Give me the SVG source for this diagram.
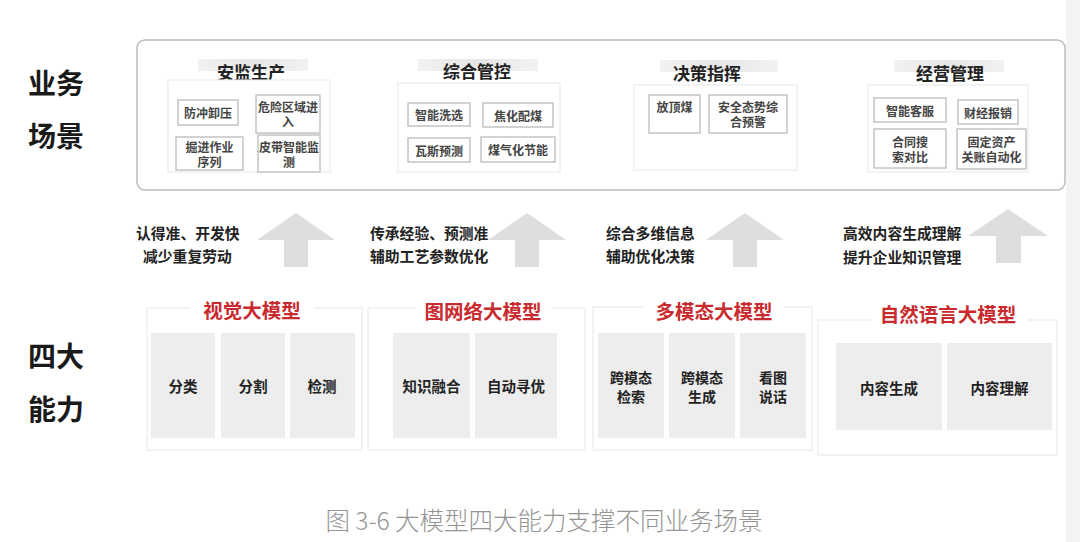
<svg xmlns="http://www.w3.org/2000/svg" width="1080" height="542" viewBox="0 0 1080 542">
<defs>
<linearGradient id="band" x1="0" y1="0" x2="1" y2="0">
<stop offset="0" stop-color="#f2f2f2"/><stop offset="0.5" stop-color="#e6e6e6"/><stop offset="1" stop-color="#f2f2f2"/>
</linearGradient>
<style>
text{font-family:"Noto Sans CJK SC","Noto Sans",sans-serif;text-anchor:middle;dominant-baseline:central}
.side{font-size:28px;font-weight:700;fill:#1a1a1a;text-anchor:start}
.sec{font-size:17px;font-weight:700;fill:#222}
.band{fill:url(#band)}
.cont{fill:#fff;stroke:#ececec;stroke-width:1.2}
.sb{fill:#fff;stroke:#c4c4c4;stroke-width:1.5}
.st{font-size:12px;font-weight:700;fill:#444}
.mid{font-size:14.8px;font-weight:700;fill:#222;text-anchor:start}
.arr{fill:#dedede}
.red{font-size:19.5px;font-weight:700;fill:#c92a2e}
.gb{fill:#ededed}
.gt{font-size:14.5px;font-weight:700;fill:#222}
.gt2{font-size:14px;font-weight:700;fill:#222}
.cap{font-size:24.5px;font-weight:300;fill:#949494}
</style>
</defs>
<rect width="1080" height="542" fill="#fff"/>
<rect x="1066" y="0" width="14" height="542" fill="#f4f4f4"/>

<g id="side-labels">
<text class="side" x="28" y="82">业务</text>
<text class="side" x="28" y="135">场景</text>
<text class="side" x="28" y="355">四大</text>
<text class="side" x="28" y="408">能力</text>
</g>

<g id="scenes-frame">
<rect x="137" y="40" width="928" height="150" rx="8" fill="#fff" stroke="#bcbcbc" stroke-width="1.5"/>
</g>

<g id="scene-anjian">
<rect class="band" x="198" y="59" width="110" height="12"/>
<text class="sec" x="251" y="71">安监生产</text>
<rect class="cont" x="168" y="80" width="162" height="92"/>
<rect class="sb" x="178" y="100" width="60" height="25"/>
<text class="st" x="208" y="112.5">防冲卸压</text>
<rect class="sb" x="256" y="95" width="64" height="38"/>
<text class="st" x="288" y="106">危险区域进</text>
<text class="st" x="288" y="121">入</text>
<rect class="sb" x="176" y="137" width="67" height="33"/>
<text class="st" x="209.5" y="146">掘进作业</text>
<text class="st" x="209.5" y="161">序列</text>
<rect class="sb" x="258" y="135" width="62" height="37"/>
<text class="st" x="289" y="146">皮带智能监</text>
<text class="st" x="289" y="161">测</text>
</g>

<g id="scene-zonghe">
<rect class="band" x="418" y="59" width="120" height="12"/>
<text class="sec" x="477" y="70">综合管控</text>
<rect class="cont" x="398" y="83" width="162" height="89"/>
<rect class="sb" x="408" y="103" width="62" height="23"/>
<text class="st" x="439" y="114.5">智能洗选</text>
<rect class="sb" x="483" y="103" width="70" height="24"/>
<text class="st" x="518" y="115">焦化配煤</text>
<rect class="sb" x="408" y="138" width="62" height="24"/>
<text class="st" x="439" y="150">瓦斯预测</text>
<rect class="sb" x="481" y="137" width="74" height="25"/>
<text class="st" x="518" y="149.5">煤气化节能</text>
</g>

<g id="scene-juece">
<rect class="band" x="660" y="60" width="118" height="12"/>
<text class="sec" x="707" y="72">决策指挥</text>
<rect class="cont" x="634" y="85" width="163" height="85"/>
<rect class="sb" x="649" y="95" width="51" height="38"/>
<text class="st" x="674.5" y="106">放顶煤</text>
<rect class="sb" x="709" y="95" width="78" height="38"/>
<text class="st" x="748" y="106">安全态势综</text>
<text class="st" x="748" y="121">合预警</text>
</g>

<g id="scene-jingying">
<rect class="band" x="894" y="60" width="110" height="12"/>
<text class="sec" x="950" y="72">经营管理</text>
<rect class="cont" x="868" y="85" width="160" height="87"/>
<rect class="sb" x="874" y="98" width="72" height="24"/>
<text class="st" x="910" y="110">智能客服</text>
<rect class="sb" x="958" y="100" width="60" height="24"/>
<text class="st" x="988" y="112">财经报销</text>
<rect class="sb" x="874" y="129" width="72" height="39"/>
<text class="st" x="910" y="141">合同搜</text>
<text class="st" x="910" y="156">索对比</text>
<rect class="sb" x="957" y="129" width="69" height="40"/>
<text class="st" x="991.5" y="141">固定资产</text>
<text class="st" x="991.5" y="156">关账自动化</text>
</g>

<g id="connectors">
<path class="arr" d="M257 240 L296 213 L335 240 L308 240 L308 267 L284 267 L284 240 Z"/>
<path class="arr" d="M488 240 L527 213 L566 240 L539 240 L539 267 L515 267 L515 240 Z"/>
<path class="arr" d="M706 240 L745 213 L784 240 L757 240 L757 267 L733 267 L733 240 Z"/>
<path class="arr" d="M968 236 L1008 209 L1048 236 L1021 236 L1021 263 L996 263 L996 236 Z"/>
</g>

<g id="benefits">
<text class="mid" x="136" y="232">认得准、开发快</text>
<text class="mid" x="143" y="255">减少重复劳动</text>
<text class="mid" x="370" y="232">传承经验、预测准</text>
<text class="mid" x="370" y="255">辅助工艺参数优化</text>
<text class="mid" x="606" y="232">综合多维信息</text>
<text class="mid" x="606" y="255">辅助优化决策</text>
<text class="mid" x="843" y="232">高效内容生成理解</text>
<text class="mid" x="843" y="256">提升企业知识管理</text>
</g>

<g id="cap-vision">
<rect class="cont" x="147" y="308" width="215" height="142"/>
<rect x="190" y="298" width="124" height="22" fill="#fff"/>
<text class="red" x="252" y="309">视觉大模型</text>
<rect class="gb" x="151" y="333" width="64" height="105"/>
<rect class="gb" x="221" y="333" width="64" height="105"/>
<rect class="gb" x="290" y="333" width="65" height="105"/>
<text class="gt" x="183" y="385">分类</text>
<text class="gt" x="253" y="385">分割</text>
<text class="gt" x="322" y="385">检测</text>
</g>

<g id="cap-graph">
<rect class="cont" x="368" y="308" width="217" height="142"/>
<rect x="415" y="298" width="136" height="22" fill="#fff"/>
<text class="red" x="483" y="310">图网络大模型</text>
<rect class="gb" x="393" y="333" width="77" height="105"/>
<rect class="gb" x="475" y="333" width="82" height="105"/>
<text class="gt" x="431.5" y="385">知识融合</text>
<text class="gt" x="516" y="385">自动寻优</text>
</g>

<g id="cap-multimodal">
<rect class="cont" x="593" y="307" width="219" height="143"/>
<rect x="645" y="297" width="138" height="22" fill="#fff"/>
<text class="red" x="714" y="310">多模态大模型</text>
<rect class="gb" x="598" y="333" width="66" height="105"/>
<rect class="gb" x="669" y="333" width="66" height="105"/>
<rect class="gb" x="740" y="333" width="66" height="105"/>
<text class="gt2" x="631" y="377">跨模态</text>
<text class="gt2" x="631" y="396">检索</text>
<text class="gt2" x="702" y="377">跨模态</text>
<text class="gt2" x="702" y="396">生成</text>
<text class="gt2" x="773" y="377">看图</text>
<text class="gt2" x="773" y="396">说话</text>
</g>

<g id="cap-nlp">
<rect class="cont" x="818" y="320" width="239" height="135"/>
<rect x="870" y="300" width="158" height="28" fill="#fff"/>
<text class="red" x="948" y="313">自然语言大模型</text>
<rect class="gb" x="836" y="343" width="106" height="87"/>
<rect class="gb" x="947" y="343" width="105" height="87"/>
<text class="gt" x="889" y="387">内容生成</text>
<text class="gt" x="999.5" y="387">内容理解</text>
</g>

<g id="caption">
<text class="cap" x="544" y="519">图 3-6 大模型四大能力支撑不同业务场景</text>
</g>
</svg>
